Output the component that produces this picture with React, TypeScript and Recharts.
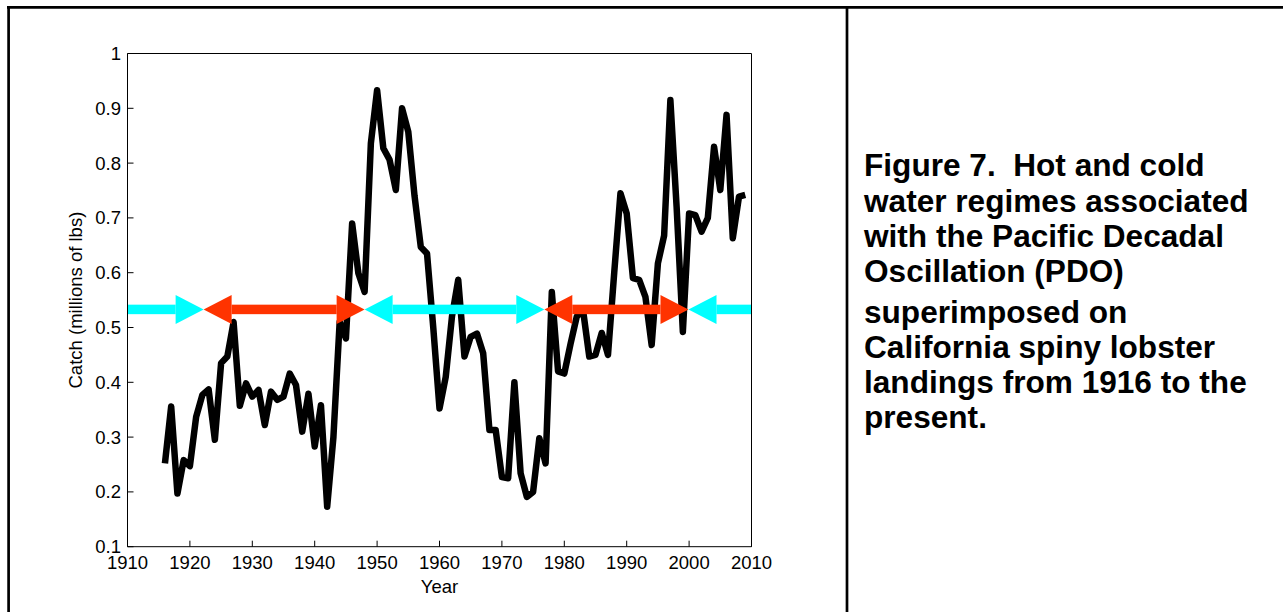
import React from 'react';
import { LineChart, Line, XAxis, YAxis, ReferenceLine, Label } from 'recharts';

// California spiny lobster landings (millions of lbs), 1916-2009
const years = [
  1916, 1917, 1918, 1919, 1920, 1921, 1922, 1923, 1924, 1925,
  1926, 1927, 1928, 1929, 1930, 1931, 1932, 1933, 1934, 1935,
  1936, 1937, 1938, 1939, 1940, 1941, 1942, 1943, 1944, 1945,
  1946, 1947, 1948, 1949, 1950, 1951, 1952, 1953, 1954, 1955,
  1956, 1957, 1958, 1959, 1960, 1961, 1962, 1963, 1964, 1965,
  1966, 1967, 1968, 1969, 1970, 1971, 1972, 1973, 1974, 1975,
  1976, 1977, 1978, 1979, 1980, 1981, 1982, 1983, 1984, 1985,
  1986, 1987, 1988, 1989, 1990, 1991, 1992, 1993, 1994, 1995,
  1996, 1997, 1998, 1999, 2000, 2001, 2002, 2003, 2004, 2005,
  2006, 2007, 2008, 2009,
];

const catchValues = [
  0.252, 0.356, 0.197, 0.258, 0.247, 0.337, 0.377, 0.387, 0.295, 0.435,
  0.447, 0.51, 0.357, 0.398, 0.374, 0.386, 0.322, 0.383, 0.368, 0.374,
  0.416, 0.395, 0.31, 0.379, 0.283, 0.358, 0.173, 0.3, 0.51, 0.48,
  0.69, 0.599, 0.565, 0.836, 0.933, 0.827, 0.806, 0.751, 0.9, 0.857,
  0.74, 0.647, 0.635, 0.5, 0.352, 0.41, 0.52, 0.587, 0.447, 0.483,
  0.489, 0.453, 0.313, 0.313, 0.227, 0.225, 0.4, 0.234, 0.191, 0.2,
  0.298, 0.252, 0.565, 0.42, 0.416, 0.47, 0.52, 0.532, 0.447, 0.45,
  0.49, 0.45, 0.6, 0.745, 0.708, 0.59, 0.587, 0.556, 0.468, 0.617,
  0.668, 0.915, 0.72, 0.492, 0.708, 0.705, 0.675, 0.7, 0.83, 0.751,
  0.888, 0.663, 0.739, 0.742,
];

const yearTicks = [1910, 1920, 1930, 1940, 1950, 1960, 1970, 1980, 1990, 2000, 2010];
const catchTicks = [0.1, 0.2, 0.3, 0.4, 0.5, 0.6, 0.7, 0.8, 0.9, 1];

// PDO regimes: cold (cyan) / warm (red)
const regimeLevel = 0.533;
const regimeStart = [1910, 1922.2, 1948, 1976.8, 1999.9];
const regimeEnd = [1922.2, 1948, 1976.8, 1999.9, 2010];
const regimeColor = ['#00FFFF', '#FF3300', '#00FFFF', '#FF3300', '#00FFFF'];
const headAtStart = [false, true, true, true, true];
const headAtEnd = [true, true, true, true, false];

const captionLines = [
  'Figure 7.  Hot and cold',
  'water regimes associated',
  'with the Pacific Decadal',
  'Oscillation (PDO)',
  'superimposed on',
  'California spiny lobster',
  'landings from 1916 to the',
  'present.',
];
const captionBaselines = [176, 211.5, 247, 282, 323, 358, 393, 428];

const data = years.map((year, i) => ({ year, value: catchValues[i] }));

const font = '"Liberation Sans", Arial, sans-serif';

const arrowShape = (color: string, start: boolean, end: boolean) => (props: any) => {
  const { x1, y1, x2 } = props;
  const len = 28;
  const half = 14.5;
  const thick = 4.75;
  const sx = start ? x1 + len : x1;
  const ex = end ? x2 - len : x2;
  return (
    <g>
      <rect x={sx} y={y1 - thick} width={ex - sx} height={thick * 2} fill={color} />
      {start && (
        <polygon points={`${x1},${y1} ${x1 + len},${y1 - half} ${x1 + len},${y1 + half}`} fill={color} />
      )}
      {end && (
        <polygon points={`${x2},${y1} ${x2 - len},${y1 - half} ${x2 - len},${y1 + half}`} fill={color} />
      )}
    </g>
  );
};

const tickStyle = { fill: '#000', fontSize: 18.5, fontFamily: font };

const App: React.FC = () => {
  return (
    <div style={{ position: 'absolute', left: 0, top: 0, width: 1283, height: 612, background: '#fff' }}>
      <svg width={1283} height={612} style={{ position: 'absolute', left: 0, top: 0 }}>
        <line x1={7} y1={7.3} x2={1283} y2={7.3} stroke="#000" strokeWidth={2.7} />
        <line x1={8.6} y1={6} x2={8.6} y2={612} stroke="#000" strokeWidth={2.7} />
        <line x1={847} y1={6} x2={847} y2={612} stroke="#000" strokeWidth={2.7} />
        {captionLines.map((t, i) => (
          <text
            key={t}
            x={864}
            y={captionBaselines[i]}
            fontFamily={font}
            fontWeight="bold"
            fontSize={31.6}
            fill="#000"
            style={{ whiteSpace: 'pre' }}
          >
            {t}
          </text>
        ))}
      </svg>
      <div style={{ position: 'absolute', left: 0, top: 0 }}>
        <LineChart
          width={848}
          height={612}
          data={data}
          margin={{ top: 43.5, right: 86.5, bottom: 25.3, left: 67.5 }}
        >
          <XAxis
            dataKey="year"
            type="number"
            domain={[1910, 2010]}
            ticks={yearTicks}
            height={40}
            stroke="#000"
            tickSize={-6}
            tickMargin={15}
            tick={tickStyle}
            interval={0}
          >
            <Label
              content={(p: any) => {
                const vb = p.viewBox;
                return (
                  <text x={vb.x + vb.width / 2} y={593.3} textAnchor="middle" fontFamily={font} fontSize={18.5} fill="#000">
                    Year
                  </text>
                );
              }}
            />
          </XAxis>
          <XAxis
            xAxisId="top"
            orientation="top"
            dataKey="year"
            type="number"
            domain={[1910, 2010]}
            ticks={yearTicks}
            height={10}
            stroke="#000"
            tickSize={-6}
            tick={false}
            interval={0}
          />
          <YAxis
            type="number"
            domain={[0.1, 1]}
            ticks={catchTicks}
            width={60}
            stroke="#000"
            tickSize={-6}
            tickMargin={12.5}
            tick={tickStyle}
            interval={0}
          >
            <Label
              content={(p: any) => {
                const vb = p.viewBox;
                const cy = vb.y + vb.height / 2;
                return (
                  <text
                    x={81.7}
                    y={cy}
                    textAnchor="middle"
                    transform={`rotate(-90, 81.7, ${cy})`}
                    fontFamily={font}
                    fontSize={18.5}
                    fill="#000"
                  >
                    Catch (millions of lbs)
                  </text>
                );
              }}
            />
          </YAxis>
          <YAxis
            yAxisId="right"
            orientation="right"
            type="number"
            domain={[0.1, 1]}
            ticks={catchTicks}
            width={10}
            stroke="#000"
            tickSize={-6}
            tick={false}
            interval={0}
          />
          <Line
            type="linear"
            dataKey="value"
            stroke="#000"
            strokeWidth={6.5}
            strokeLinejoin="round"
            dot={false}
            activeDot={false}
            isAnimationActive={false}
          />
          {regimeStart.map((s, i) => (
            <ReferenceLine
              key={i}
              segment={[
                { x: s, y: regimeLevel },
                { x: regimeEnd[i], y: regimeLevel },
              ]}
              shape={arrowShape(regimeColor[i], headAtStart[i], headAtEnd[i])}
            />
          ))}
        </LineChart>
      </div>
    </div>
  );
};

export default App;
